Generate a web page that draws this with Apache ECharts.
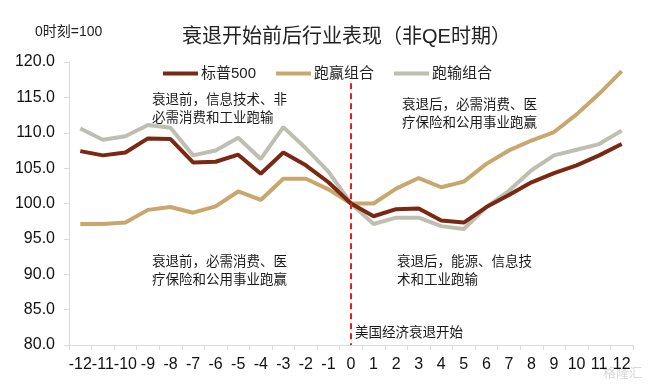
<!DOCTYPE html>
<html><head><meta charset="utf-8">
<script src="https://cdn.jsdelivr.net/npm/echarts@6/dist/echarts.min.js"></script>
<style>html,body{margin:0;padding:0;background:#fff}#c{width:650px;height:386px}</style>
</head><body><div id="c"></div>
<script>
const categories = ['-12','-11','-10','-9','-8','-7','-6','-5','-4','-3','-2','-1','0','1','2','3','4','5','6','7','8','9','10','11','12'];
const sp500 = [107.4,106.8,107.2,109.2,109.1,105.8,105.9,106.9,104.2,107.2,105.4,103.0,100,98.2,99.2,99.3,97.6,97.3,99.5,101.2,103.0,104.3,105.4,106.8,108.4];
const winners = [97.1,97.1,97.3,99.1,99.5,98.7,99.6,101.7,100.5,103.5,103.5,102.0,100,100,102.1,103.6,102.3,103.1,105.6,107.5,108.9,110.1,112.6,115.5,118.7];
const losers = [110.6,109.0,109.5,111.1,110.7,106.8,107.5,109.3,106.3,110.8,107.8,104.5,100,97.1,98.0,98.0,96.8,96.4,99.5,101.8,104.7,106.8,107.6,108.4,110.3];
const seriesNames = ['标普500','跑赢组合','跑输组合'];
const yTicks = {min:80, max:120, interval:5};
const recessionStart = '0';
const markRange = [117, 80];

const chart = echarts.init(document.getElementById('c'));
const cjk = '"Liberation Sans", Arial, "Noto Sans CJK SC", sans-serif';
const annoStyle = {fontSize:13.5, fill:'#1a1a1a', fontFamily:cjk, lineHeight:18};
chart.setOption({
  animation:false,
  textStyle:{fontFamily:cjk},
  title:{text:'衰退开始前后行业表现（非QE时期）', left:177, top:22,
    textStyle:{fontSize:20, fontWeight:'normal', color:'#222', fontFamily:cjk}},
  legend:{left:158, top:61, icon:'rect', itemWidth:35, itemHeight:4, itemGap:20,
    textStyle:{fontSize:15, color:'#222', padding:[0,0,0,-2]},
    data:seriesNames},
  grid:{left:69, right:17, top:62, bottom:41, containLabel:false},
  xAxis:{type:'category', data:categories, boundaryGap:true,
    axisLine:{lineStyle:{color:'#d9d9d9', width:1}},
    axisTick:{show:true, length:5, lineStyle:{color:'#d9d9d9'}},
    axisLabel:{interval:0, fontSize:16, color:'#111', margin:12}},
  yAxis:{type:'value', min:yTicks.min, max:yTicks.max, interval:yTicks.interval,
    axisLine:{show:true, lineStyle:{color:'#d9d9d9'}},
    axisTick:{show:true, length:5, lineStyle:{color:'#d9d9d9'}},
    splitLine:{show:false},
    axisLabel:{fontSize:16, color:'#111', margin:14, formatter:v=>v.toFixed(1)}},
  series:[
    {name:seriesNames[0], type:'line', data:sp500, symbol:'none', z:4,
      lineStyle:{color:'#7A2812', width:4}, itemStyle:{color:'#7A2812'},
      markLine:{silent:true, symbol:'none', label:{show:false},
        lineStyle:{color:'#E0201B', type:[6,4], width:2},
        data:[[{coord:[recessionStart, markRange[0]]},{coord:[recessionStart, markRange[1]]}]]}},
    {name:seriesNames[1], type:'line', data:winners, symbol:'none', z:3,
      lineStyle:{color:'#C9A66B', width:4}, itemStyle:{color:'#C9A66B'}},
    {name:seriesNames[2], type:'line', data:losers, symbol:'none', z:2,
      lineStyle:{color:'#BEBEB1', width:4}, itemStyle:{color:'#BEBEB1'}}
  ],
  graphic:[
    {type:'text', left:35, top:25, style:{text:'0时刻=100', fontSize:14, fill:'#222', fontFamily:cjk}},
    {type:'text', left:152, top:91, style:Object.assign({text:'衰退前，信息技术、非\n必需消费和工业跑输'}, annoStyle)},
    {type:'text', left:152, top:253, style:Object.assign({text:'衰退前，必需消费、医\n疗保险和公用事业跑赢'}, annoStyle)},
    {type:'text', left:402, top:96, style:Object.assign({text:'衰退后，必需消费、医\n疗保险和公用事业跑赢'}, annoStyle)},
    {type:'text', left:397, top:253, style:Object.assign({text:'衰退后，能源、信息技\n术和工业跑输'}, annoStyle)},
    {type:'text', left:355, top:327, style:{text:'美国经济衰退开始', fontSize:13.5, fill:'#1a1a1a', fontFamily:cjk}},
    {type:'text', right:8, bottom:6, style:{text:'格隆汇', fontSize:13, fill:'#d8d8d8', fontFamily:cjk}}
  ]
});
</script></body></html>
